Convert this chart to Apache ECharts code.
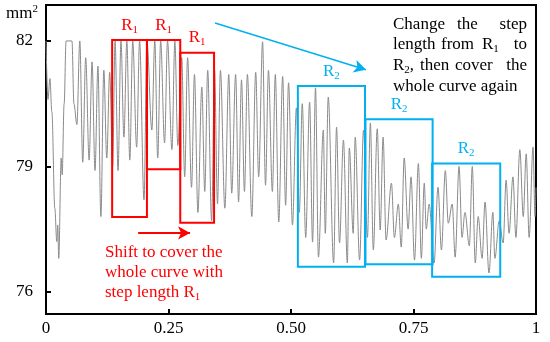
<!DOCTYPE html>
<html><head><meta charset="utf-8">
<script src="https://cdn.jsdelivr.net/npm/echarts@6/dist/echarts.min.js"></script>
<style>html,body{margin:0;padding:0;background:#fff}#c{width:550px;height:342px}</style>
</head><body><div id="c"></div>
<script>
const xValues = [0,0.004,0.008,0.012,0.018,0.022,0.024,0.026,0.031,0.033,0.037,0.041,0.053,0.057,0.063,0.069,0.075,0.081,0.088,0.094,0.100,0.106,0.112,0.118,0.124,0.130,0.136,0.141,0.147,0.153,0.159,0.165,0.171,0.177,0.185,0.191,0.200,0.206,0.216,0.222,0.228,0.234,0.242,0.248,0.257,0.263,0.269,0.277,0.283,0.289,0.297,0.303,0.310,0.318,0.324,0.330,0.338,0.344,0.350,0.356,0.365,0.373,0.379,0.387,0.393,0.399,0.405,0.411,0.420,0.428,0.434,0.442,0.448,0.454,0.462,0.468,0.475,0.483,0.489,0.495,0.503,0.511,0.517,0.523,0.530,0.538,0.544,0.550,0.556,0.566,0.570,0.576,0.587,0.593,0.599,0.607,0.615,0.619,0.627,0.631,0.640,0.648,0.656,0.662,0.668,0.676,0.682,0.688,0.694,0.705,0.711,0.719,0.725,0.731,0.739,0.745,0.752,0.760,0.766,0.772,0.776,0.782,0.792,0.800,0.807,0.815,0.821,0.829,0.835,0.843,0.849,0.855,0.864,0.870,0.876,0.882,0.890,0.896,0.904,0.912,0.916,0.925,0.933,0.939,0.945,0.953,0.959,0.967,0.974,0.980,0.986,0.994,0.998,1.0];
const areaValues = [82.0,80.6,81.1,80.3,78.0,77.2,77.6,76.8,79.2,78.8,80.5,82.0,82.0,80.5,80.0,82.0,79.1,81.6,79.15,81.5,78.9,81.4,77.8,81.3,79.2,81.25,79.0,82.0,78.9,82.0,79.7,82.0,79.15,82.0,79.46,82.0,78.2,82.0,79.87,82.0,79.2,82.0,79.56,82.0,79.4,82.0,79.5,81.6,78.75,81.6,78.5,81.2,77.9,80.9,78.4,81.3,77.7,81.3,78.1,81.3,78.0,81.2,78.36,81.2,78.15,81.07,78.4,81.2,77.8,81.25,78.75,81.98,78.55,81.3,78.4,81.2,77.67,81.15,78.07,81.0,77.6,80.4,77.9,80.5,77.3,80.54,77.19,80.88,76.83,79.87,77.4,80.66,76.69,79.94,77.17,79.63,76.69,79.44,77.4,79.7,76.76,79.87,77.3,80.04,77.0,79.9,77.48,79.7,77.24,78.6,77.3,78.1,77.07,79.2,77.5,78.75,76.76,79.07,76.8,78.6,77.5,78.1,76.69,78.5,77.0,78.9,77.64,78.1,76.83,79.0,77.3,77.9,77.1,79.0,76.69,77.8,76.8,78.15,76.45,77.9,76.8,77.7,77.17,78.67,77.4,78.75,77.3,79.4,77.8,79.3,77.3,79.46,77.8,78.5];
const xTicks = [0, 0.25, 0.5, 0.75, 1];
const xTickLabels = ['0', '0.25', '0.50', '0.75', '1'];
const yTicks = [76, 79, 82];
// windows: [x0, x1, yLow, yHigh]
const r1Windows = [[0.135, 0.206, 77.79, 82.02], [0.206, 0.274, 78.93, 82.02], [0.274, 0.343, 77.65, 81.72]];
const r2Windows = [[0.514, 0.651, 76.6, 80.92], [0.652, 0.789, 76.66, 80.13], [0.788, 0.927, 76.36, 79.07]];
const redArrow = [[0.188, 77.41], [0.294, 77.41]];
const blueArrow = [[0.345, 82.43], [0.653, 81.31]];

const RED = '#ff0000', BLUE = '#00b0f0';
const FONT = '"Liberation Serif", "Times New Roman", serif';
const labelRich = (c) => ({
  m: {fontFamily: FONT, fontSize: 17, color: c, lineHeight: 20},
  s: {fontFamily: FONT, fontSize: 11, color: c, lineHeight: 20, verticalAlign: 'bottom', padding: [9, 0, 0, 0]}
});
const gRich = (c) => ({
  m: {fontFamily: FONT, fontSize: 17, fill: c, lineHeight: 20},
  s: {fontFamily: FONT, fontSize: 11, fill: c, lineHeight: 20, verticalAlign: 'bottom', padding: [9, 0, 0, 0]}
});

const areaItems = [];
r1Windows.forEach(w => areaItems.push([
  {coord: [w[0], w[3]], itemStyle: {color: 'rgba(0,0,0,0)', borderColor: RED, borderWidth: 2},
   label: {show: true, position: 'top', distance: 4, formatter: '{m|R}{s|1}', rich: labelRich(RED)}},
  {coord: [w[1], w[2]]}
]));
r2Windows.forEach(w => areaItems.push([
  {coord: [w[0], w[3]], itemStyle: {color: 'rgba(0,0,0,0)', borderColor: BLUE, borderWidth: 2},
   label: {show: true, position: 'top', distance: 4, formatter: '{m|R}{s|2}', rich: labelRich(BLUE)}},
  {coord: [w[1], w[2]]}
]));

const blackRich = gRich('#000');
const redRich = gRich(RED);
function word(t, x, y, align, rich) {
  return {type: 'text', z: 100, style: {x: x, y: y, text: t, align: align, verticalAlign: 'middle', rich: rich, fontFamily: FONT, fontSize: 17}};
}

const chart = echarts.init(document.getElementById('c'), null, {renderer: 'canvas'});
chart.setOption({
  animation: false,
  grid: {left: 46, right: 14, top: 5, bottom: 28, show: true, borderColor: '#000', borderWidth: 2, backgroundColor: 'transparent'},
  xAxis: {
    type: 'value', min: 0, max: 1, interval: 0.25,
    axisLine: {show: true, lineStyle: {color: '#000', width: 2}},
    axisTick: {show: true, inside: true, length: 5, lineStyle: {color: '#000', width: 2}},
    splitLine: {show: false},
    axisLabel: {fontFamily: FONT, fontSize: 17, color: '#000', margin: 6,
      formatter: v => { const i = xTicks.indexOf(v); return i >= 0 ? xTickLabels[i] : ''; }}
  },
  yAxis: {
    type: 'value', min: 75.47, max: 82.86,
    axisLine: {show: true, lineStyle: {color: '#000', width: 2}},
    axisTick: {show: true, inside: true, length: 5, customValues: yTicks, lineStyle: {color: '#000', width: 2}},
    splitLine: {show: false},
    axisLabel: {fontFamily: FONT, fontSize: 17, color: '#000', margin: 13, customValues: yTicks}
  },
  series: [{
    type: 'line', data: xValues.map((x, i) => [x, areaValues[i]]), showSymbol: false, symbol: 'none',
    smooth: 0.35, smoothMonotone: 'x',
    lineStyle: {color: '#8a8a8a', width: 1}, silent: true, z: 2,
    markArea: {silent: true, z: 5, data: areaItems},
    markLine: {silent: true, symbol: ['none', 'arrow'], symbolSize: [10, 12], label: {show: false}, z: 6,
      data: [
        [{coord: redArrow[0], lineStyle: {color: RED, width: 2, type: 'solid'}}, {coord: redArrow[1]}],
        [{coord: blueArrow[0], lineStyle: {color: BLUE, width: 1.5, type: 'solid'}}, {coord: blueArrow[1]}]
      ]}
  }],
  graphic: [
    {type: 'text', style: {x: 6, y: 14, text: '{a|mm}{b|2}', verticalAlign: 'middle',
      rich: {a: {fontFamily: FONT, fontSize: 17, fill: '#000', lineHeight: 20},
             b: {fontFamily: FONT, fontSize: 11, fill: '#000', lineHeight: 20, verticalAlign: 'top', padding: [0, 0, 8, 0]}}}},
    word('{m|Change}', 393, 25, 'left', blackRich),
    word('{m|the}', 457, 25, 'left', blackRich),
    word('{m|step}', 527, 25, 'right', blackRich),
    word('{m|length}', 393, 45, 'left', blackRich),
    word('{m|from}', 441, 45, 'left', blackRich),
    word('{m|R}{s|1}', 482, 45, 'left', blackRich),
    word('{m|to}', 527, 45, 'right', blackRich),
    word('{m|R}{s|2}{m|,}', 393, 66, 'left', blackRich),
    word('{m|then}', 420, 66, 'left', blackRich),
    word('{m|cover}', 455, 66, 'left', blackRich),
    word('{m|the}', 527, 66, 'right', blackRich),
    word('{m|whole curve again}', 393, 87, 'left', blackRich),
    word('{m|Shift to cover the}', 105, 253, 'left', redRich),
    word('{m|whole curve with}', 105, 273, 'left', redRich),
    word('{m|step length R}{s|1}', 105, 293, 'left', redRich)
  ]
});
</script></body></html>
